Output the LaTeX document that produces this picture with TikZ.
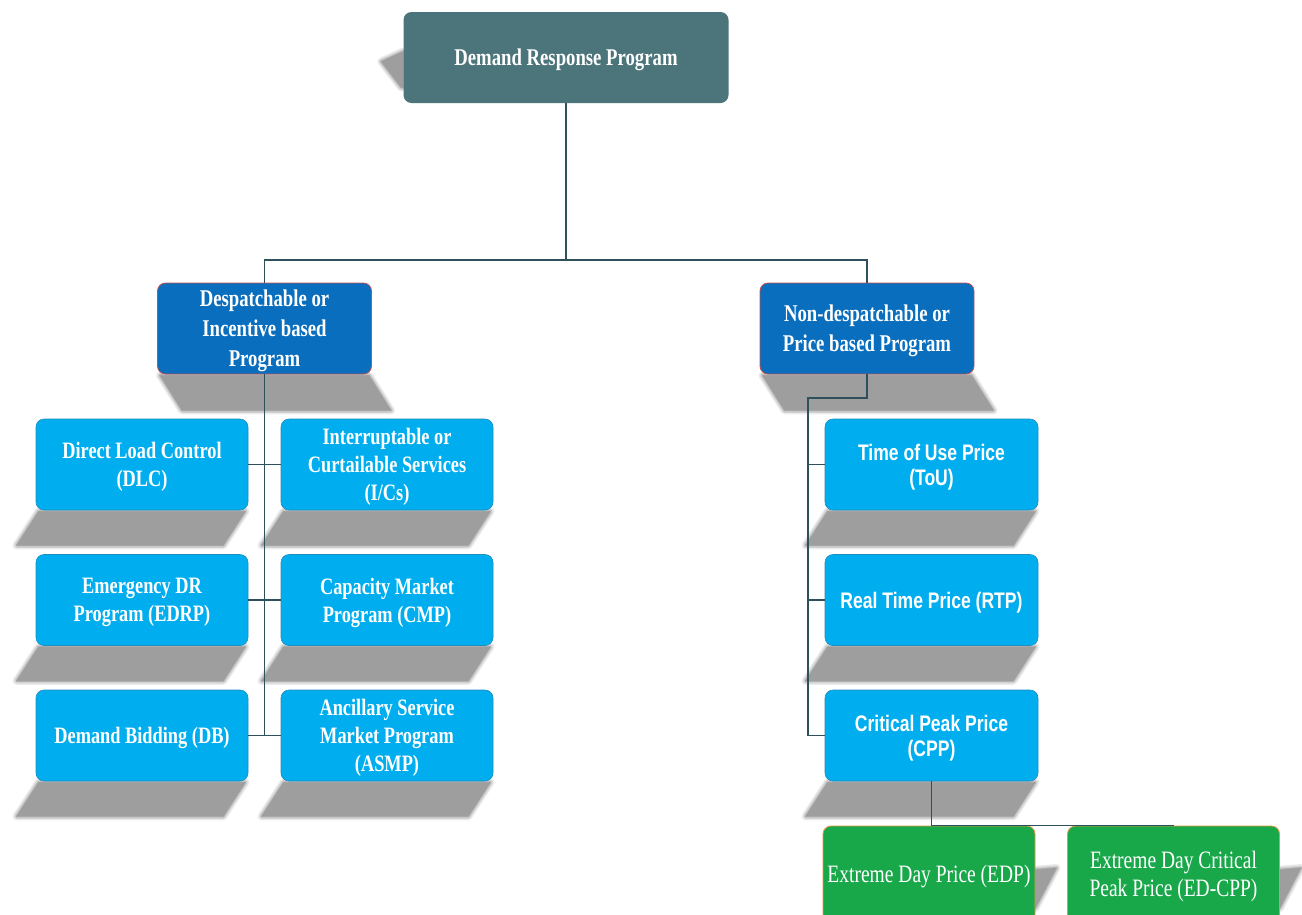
\documentclass[tikz,border=0pt]{standalone}
\usepackage{fontspec}
\usetikzlibrary{calc,backgrounds}
\newfontfamily\serifcond[FakeStretch=0.78]{Liberation Serif}
\newfontfamily\sanscond[FakeStretch=0.78]{Liberation Sans}
\definecolor{drpteal}{RGB}{75,117,122}
\definecolor{progblue}{RGB}{10,110,190}
\definecolor{itemblue}{RGB}{0,174,239}
\definecolor{itemedge}{RGB}{30,140,190}
\definecolor{pricegreen}{RGB}{24,168,74}
\definecolor{linkgray}{RGB}{45,80,90}
\definecolor{edgered}{RGB}{192,80,77}
\definecolor{edgeorange}{RGB}{230,150,60}
% soft grey patch: path given as argument
\newcommand{\softpatch}[1]{%
  \foreach \w/\c in {8/8,5/18,2/30,0.1/38}
    \fill[black!\c,draw=black!\c,line width=\w pt,line join=round] #1;}
% skewed shadow under a box: node, skew, depth
\newcommand{\dropshade}[3]{%
  \softpatch{($(#1.south west)+(3,1)$) -- ($(#1.south east)+(-3,1)$) -- ++(#2,#3)
    -- ($(#1.south west)+(#2+3,#3+1)$) -- cycle}}

\begin{document}
\begin{tikzpicture}[x=1pt,y=-1pt,
  box/.style={rectangle,rounded corners=8pt,text=white,align=center,inner sep=2pt,text depth=0pt},
  rootbox/.style={box,fill=drpteal,minimum width=325pt,minimum height=91pt,
    font=\serifcond\bfseries\fontsize{24}{30}\selectfont},
  progbox/.style={box,fill=progblue,draw=edgered,line width=0.8pt,minimum width=214pt,
    minimum height=91pt,font=\serifcond\bfseries\fontsize{24}{30}\selectfont},
  incbox/.style={box,fill=itemblue,draw=itemedge,line width=0.6pt,minimum width=212pt,
    minimum height=91pt,font=\serifcond\bfseries\fontsize{23.5}{28}\selectfont},
  pricebox/.style={box,fill=itemblue,draw=itemedge,line width=0.6pt,minimum width=213pt,
    minimum height=91pt,font=\sanscond\bfseries\fontsize{22.5}{25}\selectfont},
  cppbox/.style={box,fill=pricegreen,draw=edgeorange,line width=0.8pt,minimum width=212pt,
    minimum height=96pt,font=\serifcond\fontsize{25}{28}\selectfont},
  link/.style={draw=linkgray,line width=1.3pt}]
  \useasboundingbox (0,0) rectangle (1302,914);

  \node[rootbox] (drp) at (566,57.5) {Demand Response Program};

  \node[progbox] (dip) at (264.5,328.5) {Despatchable or\\Incentive based\\Program};
  \node[progbox] (pbp) at (867,328.5) {Non-despatchable or\\Price based Program};

  \node[incbox] (dlc) at (142,464.5) {Direct Load Control\\(DLC)};
  \node[incbox] (ics) at (387,464.5) {Interruptable or\\Curtailable Services\\(I/Cs)};
  \node[incbox] (edrp) at (142,600) {Emergency DR\\Program (EDRP)};
  \node[incbox] (cmp) at (387,600) {Capacity Market\\Program (CMP)};
  \node[incbox] (db) at (142,735.5) {Demand Bidding (DB)};
  \node[incbox] (asmp) at (387,735.5) {Ancillary Service\\Market Program\\(ASMP)};

  \node[pricebox] (tou) at (931.5,464.5) {Time of Use Price\\(ToU)};
  \node[pricebox] (rtp) at (931.5,600) {Real Time Price (RTP)};
  \node[pricebox] (cpp) at (931.5,735.5) {Critical Peak Price\\(CPP)};

  \node[cppbox] (edp) at (929,874) {Extreme Day Price (EDP)};
  \node[cppbox] (edcpp) at (1173.5,874) {Extreme Day Critical\\Peak Price (ED-CPP)};

  \begin{scope}[on background layer]
    \foreach \n in {dlc,ics,edrp,cmp,db,asmp,tou,rtp,cpp} {\dropshade{\n}{-22}{34}}
    \foreach \n in {dip,pbp} {\dropshade{\n}{22}{35}}
    \softpatch{($(drp.west)+(0,-6)$) -- ++(-22,10) -- ++(20,26) -- ++(2,0) -- cycle}
    \foreach \n in {edp,edcpp}
      {\softpatch{($(\n.east)+(-4,-4)$) -- ++(25,-2) -- ++(-21,40) -- ++(-4,0) -- cycle}}
  \end{scope}

  \coordinate (jt) at (566,260);
  \coordinate (rbus) at (808,398);
  \draw[link] (drp.south) -- (jt);
  \draw[link] (dip.north) |- (jt) -| (pbp.north);

  \draw[link] (dip.south) -- (dip.south |- db);
  \draw[link] (dlc) -- (ics);
  \draw[link] (edrp) -- (cmp);
  \draw[link] (db) -- (asmp);

  \draw[link] (pbp.south) |- (rbus) -- (rbus |- cpp) -- (cpp.west);
  \draw[link] (rbus |- tou) -- (tou.west);
  \draw[link] (rbus |- rtp) -- (rtp.west);

  \draw[link] (cpp.south) |- (edcpp.north);
\end{tikzpicture}
\end{document}
